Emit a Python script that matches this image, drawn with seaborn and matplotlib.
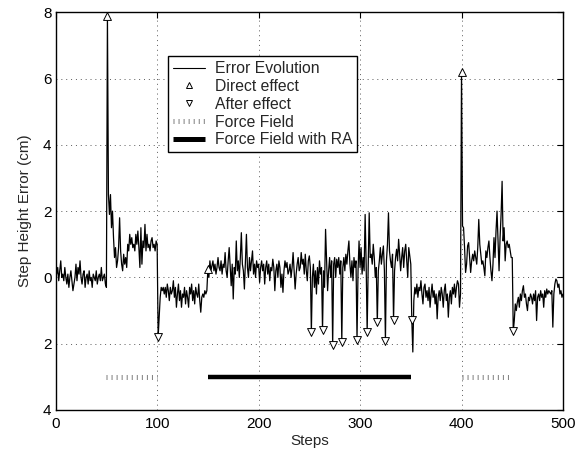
import numpy as np
import pandas as pd
import matplotlib
matplotlib.use("Agg")
import matplotlib.pyplot as plt
import seaborn as sns
from matplotlib.lines import Line2D

# ---- data (step height error, one value per step) ----
seg_baseline = [0.1, 0.3, -0.1, 0.2, 0.5, 0.0, 0.1, -0.1, 0.3, 0.0,
                -0.2, 0.1, -0.3, 0.0, 0.2, -0.1, -0.4, -0.2, 0.0, 0.4,
                -0.1, 0.3, 0.1, 0.5, 0.0, -0.2, 0.1, 0.2, -0.3, 0.0,
                0.1, -0.2, 0.2, -0.1, 0.0, -0.3, 0.1, 0.0, -0.1, 0.2,
                -0.2, 0.0, 0.1, -0.1, 0.3, -0.1, 0.0, 0.1, -0.2, -0.3]
seg_force1 = [7.9, 2.5, 1.9, 2.5, 1.5, 2.0, 1.2, 0.6, 0.9, 0.3,
              0.5, 0.9, 1.8, 0.8, 0.4, 0.2, 0.7, 0.4, 0.6, 0.3,
              1.0, 0.8, 1.3, 1.0, 1.2, 0.9, 1.0, 0.8, 1.3, 1.0,
              1.4, 0.9, 0.3, 1.5, 0.4, 1.1, 0.9, 1.6, 0.8, 1.3,
              0.9, 1.0, 0.8, 1.1, 1.2, 0.9, 1.0, 0.8, 1.1, 1.0]
seg_washout1 = [-1.8, -1.2, -0.6, -0.3, -0.4, -0.3, -0.5, -0.3, -0.6, -0.2,
                -0.4, -0.7, -0.3, -0.5, -0.4, -0.1, -0.6, -0.3, -0.9, -0.5,
                -0.2, -0.7, -0.4, -0.9, -0.5, -0.6, -0.3, -0.8, -0.4, -0.6,
                -0.9, -0.3, -0.5, -0.2, -0.7, -0.4, -0.8, -0.3, -0.5, -0.6,
                -0.2, -0.7, -1.05, -0.6, -0.5, -0.6, -0.4, -0.5, -0.4]
seg_ra1 = [0.25, 0.0, 0.5, 0.2, 0.35, 0.5, 0.2, 0.4, 0.1, 0.3,
           0.6, 0.3, 0.2, 0.5, 0.1, 0.4, 0.3, 0.75, 0.2, 0.0,
           0.5, 0.9, 0.3, -0.25, 0.4, -0.65, 0.3, 0.1, 1.1, 0.2,
           0.5, 0.0, 0.6, 1.35, 0.4, 0.2, -0.35, 0.5, 1.3, 0.3,
           0.0, 0.6, 0.2, 0.5, 0.8, 0.1, 0.4, 0.0, 0.5, 0.3,
           0.4, -0.15, 0.3, 0.5, 0.2, 0.4, -0.2, 0.3, 0.5, 0.1,
           0.4, -0.1, 0.3, 0.2, 0.55, 0.3, -0.4, 0.2, 0.4, 0.0,
           0.5, 0.3, -0.3, 0.1, -0.45, 0.2, 0.5, 0.3, 0.45, 0.1,
           0.2, 0.4, 0.0, 0.3, 0.75, 0.2, -0.35, 0.1, 0.4, 0.6,
           0.2, 0.3, 0.75, 0.4, 0.55, 0.1, 0.7, 0.2, -0.1, 0.5,
           0.65, 0.3]
seg_ra2 = [-1.65, 0.0, 0.4, -0.3, 0.2, -0.5, 0.3, -0.2, 0.5, 0.1,
           0.3, -1.6, 0.2, -0.3, 1.45, 0.5, -0.4, 0.2, 0.6, 0.0,
           0.5, -2.05, 0.4, 0.6, 0.0, 0.55, 0.3, 0.6, 0.1, 0.5,
           -1.95, 0.3, 0.6, 0.2, 0.7, 0.4, 0.8, 1.1, 0.4, 0.0,
           0.5, -0.1, 0.6, 0.3, 0.5, -1.88, 0.2, 1.1, 0.3, 0.9,
           0.1, 0.6, 0.2, 1.9, 0.4, -1.65, 0.3, 1.95, 0.6, 0.7,
           0.4, 1.0, 0.6, 0.0, 0.3, -1.35, 0.2, 0.5, 0.9, 0.4,
           0.7, 0.95, 0.2, -1.92, 0.5, 1.0, 1.95, 0.8, 0.5, 0.3,
           0.7, -1.28, 0.2, 0.6, 0.85, 0.5, 1.15, 0.7, 0.2, 0.6,
           0.9, 0.3, 0.8, 1.0, 0.5, 0.0, 0.9, 0.65, 0.4, -1.28,
           -2.25]
seg_washout2 = [-0.7, -0.3, -0.5, -0.2, -0.6, -0.3, -0.4, -0.1, -0.5, -0.8,
                -0.3, -0.2, -0.6, -0.4, -0.7, -0.3, -0.9, -0.5, -0.2, -0.6,
                -0.4, -0.8, -0.5, -1.25, -0.6, -0.4, -0.7, -0.3, -0.5, -0.9,
                -0.4, -0.2, -0.7, -0.5, -1.2, -0.6, -0.4, -0.8, -0.3, -0.5,
                -0.2, -0.6, -0.3, -0.1, -0.2, -0.9, -0.5]
seg_force2 = [6.2, 1.55, 1.5, 0.9, 0.15, 0.4, 0.95, 1.05, 0.6, 0.15,
              0.5, 0.7, 0.5, 0.8, 0.6, 0.4, 0.9, 1.75, 1.0, 0.7,
              0.4, 0.5, 0.3, 0.05, 0.8, 0.6, 0.9, 1.1, 0.6, 0.2,
              -0.1, 0.4, 1.2, 0.6, 1.4, 2.0, 1.1, 0.2, 1.2, 1.9,
              2.9, 1.1, 1.5, 0.5, 1.0, 1.1, 0.9, 1.0, 0.8, 0.6,
              0.6]
seg_washout3 = [-1.63, -1.3, -0.8, -1.0, -0.75, -0.6, -0.9, -0.5, -0.7, -0.4,
                -0.25, -0.6, -0.5, -0.8, -1.0, -0.6, -0.7, -0.5, -0.6, -0.8,
                -0.5, -0.7, -0.4, -1.3, -0.6, -0.5, -0.7, -0.4, -0.6, -0.5,
                -0.9, -0.4, -0.6, -0.35, -0.5, -0.4, -0.45, -0.5, -0.4, -1.5,
                -0.5, -0.2, -0.05, -0.1, -0.3, -0.2, -0.5, -0.4, -0.6, -0.5]

direct_steps = [51, 150, 400]
after_steps = [101, 252, 263, 273, 282, 297, 307, 317, 325, 333, 351, 451]

force_field_phases = [(50, 100), (400, 450)]
ra_phase = (150, 350)
phase_level = -3

x_ticks = [0, 100, 200, 300, 400, 500]
y_ticks = [8, 6, 4, 2, 0, -2, -4]
y_tick_labels = ["8", "6", "4", "2", "0", "2", "4"]

legend_labels = ["Error Evolution", "Direct effect", "After effect",
                 "Force Field", "Force Field with RA"]

# ---- build ----
err = np.concatenate([seg_baseline, seg_force1, seg_washout1, seg_ra1,
                      seg_ra2, seg_washout2, seg_force2, seg_washout3])
steps = np.arange(1, len(err) + 1)
df = pd.DataFrame({"Steps": steps, "Error": err})
d_idx = [s - 1 for s in direct_steps if s <= len(err)]
a_idx = [s - 1 for s in after_steps if s <= len(err)]

sns.set_theme(style="white")
plt.rcParams["font.family"] = ["Liberation Sans", "DejaVu Sans"]
plt.rcParams["font.size"] = 11

fig, ax = plt.subplots(figsize=(5.77, 4.49), dpi=100)
fig.subplots_adjust(left=0.0965, right=0.9757, bottom=0.0869, top=0.9726)

sns.lineplot(data=df, x="Steps", y="Error", color="black", lw=0.9,
             ax=ax, legend=False, zorder=2)
sns.scatterplot(x=steps[d_idx], y=err[d_idx], marker="^", s=32,
                color="white", edgecolor="black", linewidth=0.7,
                ax=ax, legend=False, zorder=3)
sns.scatterplot(x=steps[a_idx], y=err[a_idx], marker="v", s=32,
                color="white", edgecolor="black", linewidth=0.7,
                ax=ax, legend=False, zorder=3)

ff_style = dict(color="0.5", lw=3.6, linestyle=(0, (0.2, 0.81)),
                dash_capstyle="butt", solid_capstyle="butt")
for (a, b) in force_field_phases:
    ax.plot([a, b], [phase_level, phase_level], **ff_style)
ax.plot(list(ra_phase), [phase_level, phase_level], color="black", lw=3.2,
        solid_capstyle="butt")

ax.set_xlim(0, 500)
ax.set_ylim(-4, 8)
ax.set_xticks(x_ticks)
ax.set_yticks(y_ticks)
ax.set_yticklabels(y_tick_labels)
ax.grid(True, color="0.35", linestyle=(0, (1, 4)), lw=0.7)
ax.set_axisbelow(True)
ax.tick_params(direction="in", top=True, right=True, length=4, width=0.8,
               labelsize=11, colors="black")
ax.tick_params(axis="x", pad=5)
ax.tick_params(axis="y", pad=3)
for sp in ax.spines.values():
    sp.set_visible(True)
    sp.set_color("black")
    sp.set_linewidth(1.0)

ax.set_xlabel("Steps", fontsize=11, labelpad=2)
ax.set_ylabel("Step Height Error (cm)", fontsize=11, labelpad=8)

handles = [
    Line2D([], [], color="black", lw=0.8),
    Line2D([], [], marker="^", linestyle="none", markerfacecolor="white",
           markeredgecolor="black", markersize=5, markeredgewidth=0.7),
    Line2D([], [], marker="v", linestyle="none", markerfacecolor="white",
           markeredgecolor="black", markersize=5, markeredgewidth=0.7),
    Line2D([], [], **ff_style),
    Line2D([], [], color="black", lw=3.6, solid_capstyle="butt"),
]
leg = ax.legend(handles, legend_labels, loc="upper left",
                bbox_to_anchor=(0.221, 0.889), fontsize=11.3,
                frameon=True, fancybox=False, edgecolor="black",
                framealpha=1, borderpad=0.3, labelspacing=0.18,
                handlelength=2.1, handletextpad=0.6, borderaxespad=0)
leg.get_frame().set_linewidth(1.0)

fig.savefig("out.png", dpi=100)
